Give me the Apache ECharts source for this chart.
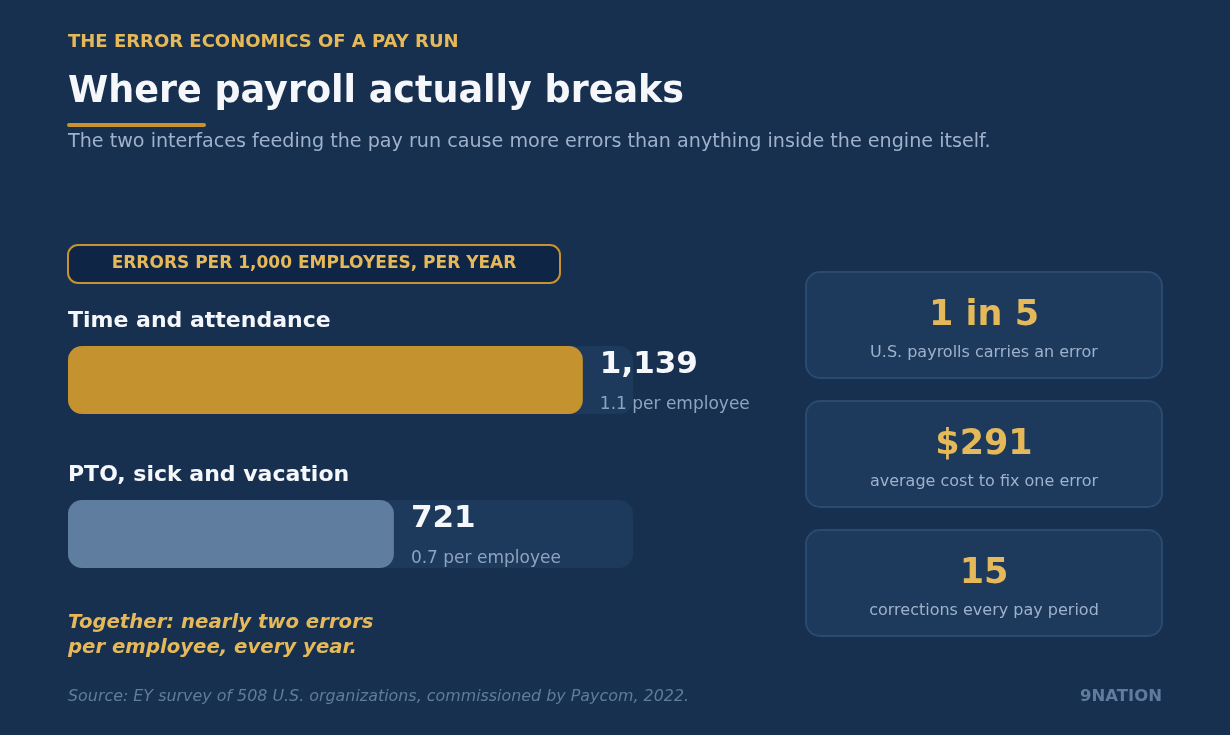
<!DOCTYPE html>
<html>
<head>
<meta charset="utf-8">
<script src="https://cdn.jsdelivr.net/npm/echarts@6/dist/echarts.min.js"></script>
<style>
  html, body { margin: 0; padding: 0; background: #17304f; }
  #chart { width: 1230px; height: 735px; }
</style>
</head>
<body>
<div id="chart"></div>
<script>
// data
const categories = ['Time and attendance', 'PTO, sick and vacation']
const errorsPer1000 = [1139, 721]
const perEmployee = ['1.1 per employee', '0.7 per employee']
const barColors = ['#c4922f', '#5f7d9f']
const axisMax = 1250

const statValues = ['1 in 5', '$291', '15']
const statLabels = ['U.S. payrolls carries an error', 'average cost to fix one error', 'corrections every pay period']

const FONT = 'DejaVu Sans'
const GOLD = '#e5b95a'

const chart = echarts.init(document.getElementById('chart'))

// stat cards on the right
const cards = []
statValues.forEach((v, i) => {
  const top = 272 + i * 129
  cards.push({
    type: 'rect',
    shape: { x: 806, y: top, width: 356, height: 106, r: 14 },
    style: { fill: '#1d3a5c', stroke: '#2a4a70', lineWidth: 2 }
  })
  cards.push({
    type: 'text', x: 984, y: top + 44,
    style: { text: v, fill: GOLD, font: 'bold 35px ' + FONT, align: 'center', verticalAlign: 'middle' }
  })
  cards.push({
    type: 'text', x: 984, y: top + 81,
    style: { text: statLabels[i], fill: '#9fb1cb', font: '16px ' + FONT, align: 'center', verticalAlign: 'middle' }
  })
})

const option = {
  backgroundColor: '#17304f',
  animation: false,
  grid: { left: 68, top: 303, width: 565, height: 308, containLabel: false },
  xAxis: { type: 'value', min: 0, max: axisMax, show: false },
  yAxis: {
    type: 'category',
    data: categories,
    inverse: true,
    axisLine: { show: false },
    axisTick: { show: false },
    axisLabel: {
      inside: true,
      margin: 0,
      align: 'left',
      verticalAlign: 'bottom',
      padding: [0, 0, 46, 0],
      color: '#f5f7fb',
      fontFamily: FONT,
      fontWeight: 'bold',
      fontSize: 22,
      lineHeight: 26
    }
  },
  series: [{
    type: 'bar',
    barWidth: 68,
    data: errorsPer1000.map((v, i) => ({ value: v, itemStyle: { color: barColors[i] } })),
    itemStyle: { borderRadius: 14 },
    showBackground: true,
    backgroundStyle: { color: '#1d3a5c', borderRadius: 14 },
    label: {
      show: true,
      position: 'right',
      distance: 17,
      offset: [0, 5],
      formatter: p => '{v|' + p.value.toLocaleString('en-US') + '}\n{s|' + perEmployee[p.dataIndex] + '}',
      rich: {
        v: { color: '#f5f7fb', fontFamily: FONT, fontWeight: 'bold', fontSize: 31, lineHeight: 40 },
        s: { color: '#8ea3bf', fontFamily: FONT, fontSize: 17, lineHeight: 40 }
      }
    }
  }],
  graphic: [
    { type: 'text', x: 68, y: 42,
      style: { text: 'THE ERROR ECONOMICS OF A PAY RUN', fill: GOLD, font: 'bold 18px ' + FONT, verticalAlign: 'middle' } },
    { type: 'text', x: 68, y: 93,
      style: { text: 'Where payroll actually breaks', fill: '#f5f7fb', font: 'bold 36.5px ' + FONT, verticalAlign: 'middle' } },
    { type: 'rect', shape: { x: 67, y: 123, width: 139, height: 4, r: 2 }, style: { fill: '#c8922f' } },
    { type: 'text', x: 68, y: 142,
      style: { text: 'The two interfaces feeding the pay run cause more errors than anything inside the engine itself.', fill: '#9fb1cb', font: '19.15px ' + FONT, verticalAlign: 'middle' } },
    { type: 'rect', shape: { x: 68, y: 245, width: 492, height: 38, r: 10 },
      style: { fill: '#0f2546', stroke: '#c8922f', lineWidth: 2 } },
    { type: 'text', x: 314, y: 264,
      style: { text: 'ERRORS PER 1,000 EMPLOYEES, PER YEAR', fill: GOLD, font: 'bold 17px ' + FONT, align: 'center', verticalAlign: 'middle' } },
    { type: 'text', x: 68, y: 623,
      style: { text: 'Together: nearly two errors', fill: GOLD, font: 'italic bold 19.7px ' + FONT, verticalAlign: 'middle' } },
    { type: 'text', x: 68, y: 648,
      style: { text: 'per employee, every year.', fill: GOLD, font: 'italic bold 19.7px ' + FONT, verticalAlign: 'middle' } },
    { type: 'text', x: 68, y: 697,
      style: { text: 'Source: EY survey of 508 U.S. organizations, commissioned by Paycom, 2022.', fill: '#5f7c9e', font: 'italic 15.9px ' + FONT, verticalAlign: 'middle' } },
    { type: 'text', x: 1162, y: 697,
      style: { text: '9NATION', fill: '#5f7c9e', font: 'bold 16.5px ' + FONT, align: 'right', verticalAlign: 'middle' } }
  ].concat(cards)
}

chart.setOption(option)
</script>
</body>
</html>
